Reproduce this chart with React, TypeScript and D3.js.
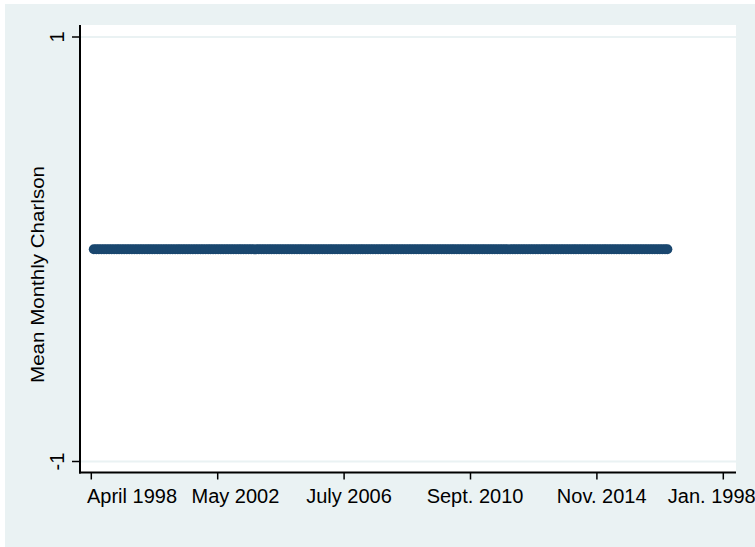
import React from "react";
import * as d3 from "d3";

// ---- data ----
const firstMonth = "1998-05-01";
// Mean monthly Charlson, May 1998 – March 2017 (one row per calendar year)
const charlsonValues: number[] = [
  0, 0, 0, 0, 0, 0, 0, 0, // 1998 May–Dec
  0, 0, 0, 0, 0, 0, 0, 0, 0, 0, 0, 0, // 1999
  0, 0, 0, 0, 0, 0, 0, 0, 0, 0, 0, 0, // 2000
  0, 0, 0, 0, 0, 0, 0, 0, 0, 0, 0, 0, // 2001
  0, 0, 0, 0, 0, 0, 0, 0, 0, 0, 0, 0, // 2002
  0, 0, 0, 0, 0, 0, 0, 0, 0, 0, 0, 0, // 2003
  0, 0, 0, 0, 0, 0, 0, 0, 0, 0, 0, 0, // 2004
  0, 0, 0, 0, 0, 0, 0, 0, 0, 0, 0, 0, // 2005
  0, 0, 0, 0, 0, 0, 0, 0, 0, 0, 0, 0, // 2006
  0, 0, 0, 0, 0, 0, 0, 0, 0, 0, 0, 0, // 2007
  0, 0, 0, 0, 0, 0, 0, 0, 0, 0, 0, 0, // 2008
  0, 0, 0, 0, 0, 0, 0, 0, 0, 0, 0, 0, // 2009
  0, 0, 0, 0, 0, 0, 0, 0, 0, 0, 0, 0, // 2010
  0, 0, 0, 0, 0, 0, 0, 0, 0, 0, 0, 0, // 2011
  0, 0, 0, 0, 0, 0, 0, 0, 0, 0, 0, 0, // 2012
  0, 0, 0, 0, 0, 0, 0, 0, 0, 0, 0, 0, // 2013
  0, 0, 0, 0, 0, 0, 0, 0, 0, 0, 0, 0, // 2014
  0, 0, 0, 0, 0, 0, 0, 0, 0, 0, 0, 0, // 2015
  0, 0, 0, 0, 0, 0, 0, 0, 0, 0, 0, 0, // 2016
  0, 0, 0, // 2017 Jan–Mar
];
const xTickDates = ["1998-04-01", "2002-05-26", "2006-07-20", "2010-09-13", "2014-11-07", "2019-01-01"];
const xTickLabels = ["April 1998", "May 2002", "July 2006", "Sept. 2010", "Nov. 2014", "Jan. 1998"];
const yTicks = [-1, 1];
const yTitle = "Mean Monthly Charlson";

// ---- layout ----
const W = 755;
const H = 547;
const BG = "#EAF2F3";
const NAVY = "#1A476F";
const FONT = "'Liberation Sans', Arial, Helvetica, sans-serif";
// horizontal placement of each x label relative to its tick (as in the reference)
const xLabelShift = [40.7, 17.7, 4.9, 4.5, 4.8, -11.5];

const parseDay = d3.timeParse("%Y-%m-%d");

export default function App() {
  const plot = { left: 80, right: 736, top: 25, bottom: 472.5 };

  const x = d3
    .scaleTime()
    .domain([parseDay(xTickDates[0])!, parseDay(xTickDates[xTickDates.length - 1])!])
    .range([91.3, 723.3]);
  const y = d3.scaleLinear().domain([-1, 1]).range([461.5, 37]);

  const start = parseDay(firstMonth)!;
  const points = charlsonValues.map((v, i) => ({ date: d3.timeMonth.offset(start, i), value: v }));

  const line = d3
    .line<{ date: Date; value: number }>()
    .x((d) => x(d.date))
    .y((d) => y(d.value));

  return (
    <svg
      width={W}
      height={H}
      style={{ position: "absolute", left: 0, top: 0, display: "block" }}
      fontFamily={FONT}
    >
      <rect x={0} y={0} width={W} height={H} fill="#ffffff" />
      <rect x={5} y={4} width={W - 5} height={H - 4} fill={BG} />
      <rect
        x={plot.left}
        y={plot.top}
        width={plot.right - plot.left}
        height={plot.bottom - plot.top}
        fill="#ffffff"
      />
      {/* gridlines */}
      {yTicks.map((t) => (
        <line
          key={"g" + t}
          x1={plot.left}
          x2={plot.right}
          y1={y(t)}
          y2={y(t)}
          stroke={BG}
          strokeWidth={2}
        />
      ))}
      {/* series */}
      <path d={line(points) || ""} fill="none" stroke={NAVY} strokeWidth={1.5} />
      {points.map((p, i) => (
        <circle key={i} cx={x(p.date)} cy={y(p.value)} r={5} fill={NAVY} />
      ))}
      {/* y axis */}
      <line x1={plot.left} x2={plot.left} y1={plot.top} y2={plot.bottom + 1} stroke="#000" strokeWidth={2} />
      {yTicks.map((t) => (
        <g key={"y" + t}>
          <line x1={72} x2={plot.left} y1={y(t)} y2={y(t)} stroke="#000" strokeWidth={1.5} />
          <text
            transform={`translate(64,${y(t)}) rotate(-90)`}
            textAnchor="middle"
            fontSize={20}
            fill="#000"
          >
            {t}
          </text>
        </g>
      ))}
      <text
        transform={`translate(44,274.5) rotate(-90)`}
        textAnchor="middle"
        fontSize={18}
        textLength={217}
        lengthAdjust="spacingAndGlyphs"
        fill="#000"
      >
        {yTitle}
      </text>
      {/* x axis */}
      <line x1={plot.left - 1} x2={plot.right} y1={plot.bottom} y2={plot.bottom} stroke="#000" strokeWidth={2} />
      {xTickDates.map((d, i) => {
        const px = x(parseDay(d)!);
        return (
          <g key={"x" + d}>
            <line x1={px} x2={px} y1={plot.bottom} y2={plot.bottom + 7} stroke="#000" strokeWidth={1.5} />
            <text x={px + xLabelShift[i]} y={503} textAnchor="middle" fontSize={20} fill="#000">
              {xTickLabels[i]}
            </text>
          </g>
        );
      })}
    </svg>
  );
}
